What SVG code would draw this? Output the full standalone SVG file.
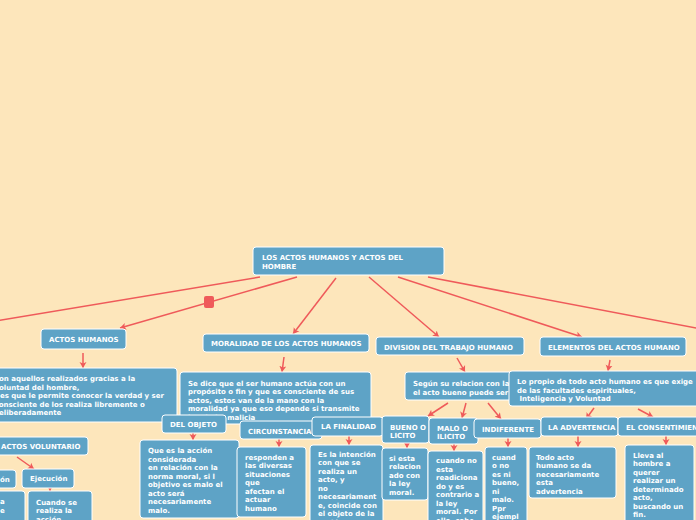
<svg xmlns="http://www.w3.org/2000/svg" width="696" height="520" viewBox="0 0 696 520">
<style>
.n{fill:#5EA3C6;stroke:#FFFFFF;stroke-width:1}
.t{font-family:"DejaVu Sans",Verdana,sans-serif;font-weight:bold;font-size:7px;fill:#FFFFFF}
.c{stroke:#EF5A5A;stroke-width:1.5;fill:none}
.a{marker-end:url(#ah)}
</style>
<defs>
<marker id="ah" markerUnits="userSpaceOnUse" markerWidth="9" markerHeight="9" refX="6" refY="4" orient="auto">
<path d="M0,0.5 L6,4 L0,7.5 L1.5,4 z" fill="#EF5A5A"/>
</marker>
</defs>
<rect width="696" height="520" fill="#FDE6BB"/>
<g id="connectors">
<line class="c" x1="260" y1="277" x2="-10" y2="322"/>
<line class="c a" x1="297" y1="277" x2="120" y2="328"/>
<rect x="204" y="296" width="10" height="12" rx="2" fill="#EF5A5A"/>
<line class="c a" x1="336" y1="278" x2="293" y2="334"/>
<line class="c a" x1="369" y1="277" x2="439" y2="337"/>
<line class="c a" x1="398" y1="277" x2="582" y2="337"/>
<line class="c" x1="428" y1="277" x2="706" y2="330"/>
<line class="c a" x1="83" y1="353" x2="83" y2="368"/>
<line class="c a" x1="284" y1="357" x2="282" y2="372"/>
<line class="c a" x1="457" y1="358" x2="465" y2="372"/>
<line class="c a" x1="610" y1="360" x2="608" y2="371"/>
<line class="c a" x1="448" y1="403" x2="428" y2="416"/>
<line class="c a" x1="466" y1="403" x2="462" y2="418"/>
<line class="c a" x1="488" y1="403" x2="501" y2="419"/>
<line class="c a" x1="594" y1="408" x2="586" y2="419"/>
<line class="c a" x1="638" y1="409" x2="653" y2="417"/>
<line class="c a" x1="17" y1="457" x2="34" y2="469"/>
<line class="c a" x1="193" y1="433" x2="193" y2="440"/>
<line class="c a" x1="279" y1="439" x2="279" y2="447"/>
<line class="c a" x1="349" y1="436" x2="349" y2="445"/>
<line class="c a" x1="407" y1="443" x2="407" y2="448"/>
<line class="c a" x1="454" y1="444" x2="454" y2="451"/>
<line class="c a" x1="508" y1="438" x2="508" y2="447"/>
<line class="c a" x1="578" y1="436" x2="578" y2="447"/>
<line class="c a" x1="666" y1="436" x2="666" y2="445"/>
<line class="c a" x1="50" y1="488" x2="50" y2="491"/>
</g>
<g id="root"><rect class="n" x="253" y="247" width="191" height="28" rx="3"/>
<text class="t" x="262" y="260">LOS ACTOS HUMANOS Y ACTOS DEL</text><text class="t" x="262" y="268.5">HOMBRE</text></g>
<g id="actos-humanos"><rect class="n" x="41" y="329" width="85" height="20" rx="3"/><text class="t" x="49" y="342">ACTOS HUMANOS</text></g>
<g id="moralidad"><rect class="n" x="203" y="334" width="166" height="18" rx="3"/><text class="t" x="211" y="346">MORALIDAD DE LOS ACTOS HUMANOS</text></g>
<g id="division"><rect class="n" x="376" y="337" width="148" height="18" rx="3"/><text class="t" x="384" y="349.5">DIVISION DEL TRABAJO HUMANO</text></g>
<g id="elementos"><rect class="n" x="540" y="337" width="146" height="19" rx="3"/><text class="t" x="548" y="349.5">ELEMENTOS DEL ACTOS HUMANO</text></g>
<g id="actos-humanos-def"><rect class="n" x="-10" y="368" width="187" height="54" rx="3"/>
<text class="t"><tspan x="-6" y="381">Son aquellos realizados gracias a la</tspan><tspan x="-5.5" y="389.5">voluntad del hombre,</tspan><tspan x="0" y="398">es que le permite conocer la verdad y ser</tspan><tspan x="-5.5" y="406.5">consciente de los realiza libremente o</tspan><tspan x="-6" y="415">deliberadamente</tspan></text></g>
<g id="moralidad-def"><rect class="n" x="180" y="372" width="191" height="52" rx="3"/>
<text class="t"><tspan x="188" y="385.5">Se dice que el ser humano actúa con un</tspan><tspan x="188" y="394">propósito o fin y  que es consciente de sus</tspan><tspan x="188" y="402.5">actos, estos van de la mano con la</tspan><tspan x="188" y="411">moralidad ya que eso depende si transmite</tspan><tspan x="188" y="419.5">bondad o malicia</tspan></text></g>
<g id="del-objeto"><rect class="n" x="162" y="415" width="64" height="18" rx="3"/><text class="t" x="170" y="427">DEL OBJETO</text></g>
<g id="del-objeto-def"><rect class="n" x="140" y="440" width="99" height="78" rx="3"/>
<text class="t"><tspan x="148" y="453">Que es la acción</tspan><tspan x="148" y="461.5">considerada</tspan><tspan x="148" y="470">en relación con la</tspan><tspan x="148" y="478.5">norma moral, si l</tspan><tspan x="148" y="487">objetivo es malo el</tspan><tspan x="148" y="495.5">acto será</tspan><tspan x="148" y="504">necesariamente</tspan><tspan x="148" y="512.5">malo.</tspan></text></g>
<g id="circunstancia"><rect class="n" x="240" y="421" width="82" height="18" rx="3"/><text class="t" x="248" y="433.5">CIRCUNSTANCIA</text></g>
<g id="circunstancia-def"><rect class="n" x="237" y="447" width="69" height="70" rx="3"/>
<text class="t"><tspan x="245" y="459.5">responden a</tspan><tspan x="245" y="468">las diversas</tspan><tspan x="245" y="476.5">situaciones</tspan><tspan x="245" y="485">que</tspan><tspan x="245" y="493.5">afectan el</tspan><tspan x="245" y="502">actuar</tspan><tspan x="245" y="510.5">humano</tspan></text></g>
<g id="finalidad"><rect class="n" x="312" y="417" width="71" height="19" rx="3"/><text class="t" x="321" y="429">LA FINALIDAD</text></g>
<g id="finalidad-def"><rect class="n" x="310" y="445" width="73" height="85" rx="3"/>
<text class="t"><tspan x="318" y="456.5">Es la intención</tspan><tspan x="318" y="465">con que se</tspan><tspan x="318" y="473.5">realiza un</tspan><tspan x="318" y="482">acto, y</tspan><tspan x="318" y="490.5">no</tspan><tspan x="318" y="499">necesariament</tspan><tspan x="318" y="507.5">e, coincide con</tspan><tspan x="318" y="516">el objeto de la</tspan><tspan x="318" y="524.5">acción.</tspan></text></g>
<g id="segun"><rect class="n" x="405" y="372" width="110" height="28" rx="3"/>
<text class="t"><tspan x="413" y="386">Según su relacion con la</tspan><tspan x="413" y="394.5">el acto bueno puede ser</tspan></text></g>
<g id="bueno"><rect class="n" x="382" y="416" width="47" height="27" rx="3"/>
<text class="t"><tspan x="390" y="429.5">BUENO O</tspan><tspan x="390" y="438">LICITO</tspan></text></g>
<g id="bueno-def"><rect class="n" x="382" y="448" width="46" height="52" rx="3"/>
<text class="t"><tspan x="389" y="460.5">si esta</tspan><tspan x="389" y="469">relacion</tspan><tspan x="389" y="477.5">ado con</tspan><tspan x="389" y="486">la ley</tspan><tspan x="389" y="494.5">moral.</tspan></text></g>
<g id="malo"><rect class="n" x="429" y="418" width="49" height="26" rx="3"/>
<text class="t"><tspan x="437" y="430.5">MALO O</tspan><tspan x="437" y="439">ILICITO</tspan></text></g>
<g id="malo-def"><rect class="n" x="428" y="451" width="55" height="80" rx="3"/>
<text class="t"><tspan x="436" y="463">cuando no</tspan><tspan x="436" y="471.5">esta</tspan><tspan x="436" y="480">readiciona</tspan><tspan x="436" y="488.5">do y es</tspan><tspan x="436" y="497">contrario a</tspan><tspan x="436" y="505.5">la ley</tspan><tspan x="436" y="514">moral. Por</tspan><tspan x="436" y="522.5">ello, sabe</tspan></text></g>
<g id="indiferente"><rect class="n" x="474" y="419" width="67" height="19" rx="3"/><text class="t" x="482" y="432">INDIFERENTE</text></g>
<g id="indiferente-def"><rect class="n" x="485" y="447" width="42" height="80" rx="3"/>
<text class="t"><tspan x="492" y="459.5">cuand</tspan><tspan x="492" y="468">o no</tspan><tspan x="492" y="476.5">es ni</tspan><tspan x="492" y="485">bueno,</tspan><tspan x="492" y="493.5">ni</tspan><tspan x="492" y="502">malo.</tspan><tspan x="492" y="510.5">Ppr</tspan><tspan x="492" y="519">ejempl</tspan></text></g>
<g id="elementos-def"><rect class="n" x="509" y="371" width="200" height="35" rx="3"/>
<text class="t"><tspan x="517" y="384">Lo propio de todo acto humano es que exige</tspan><tspan x="517" y="392.5">de las facultades espirituales,</tspan><tspan x="517" y="401"> Inteligencia y Voluntad</tspan></text></g>
<g id="advertencia"><rect class="n" x="541" y="417" width="77" height="19" rx="3"/><text class="t" x="548" y="430">LA ADVERTENCIA</text></g>
<g id="consentimiento"><rect class="n" x="618" y="417" width="90" height="19" rx="3"/><text class="t" x="626" y="430">EL CONSENTIMIENTO</text></g>
<g id="advertencia-def"><rect class="n" x="529" y="447" width="87" height="51" rx="3"/>
<text class="t"><tspan x="536" y="459.5">Todo acto</tspan><tspan x="536" y="468">humano se da</tspan><tspan x="536" y="476.5">necesariamente</tspan><tspan x="536" y="485">esta</tspan><tspan x="536" y="493.5">advertencia</tspan></text></g>
<g id="consentimiento-def"><rect class="n" x="625" y="445" width="69" height="85" rx="3"/>
<text class="t"><tspan x="633" y="457.5">Lleva al</tspan><tspan x="633" y="466">hombre a</tspan><tspan x="633" y="474.5">querer</tspan><tspan x="633" y="483">realizar un</tspan><tspan x="633" y="491.5">determinado</tspan><tspan x="633" y="500">acto,</tspan><tspan x="633" y="508.5">buscando un</tspan><tspan x="633" y="517">fin.</tspan></text></g>
<g id="actos-voluntario"><rect class="n" x="-10" y="437" width="98" height="18" rx="3"/><text class="t" x="1" y="449">ACTOS VOLUNTARIO</text></g>
<g id="on-node"><rect class="n" x="-10" y="470" width="26" height="18" rx="3"/><text class="t" x="0" y="482">ón</text></g>
<g id="ejecucion"><rect class="n" x="22" y="469" width="52" height="19" rx="3"/><text class="t" x="30" y="481">Ejecución</text></g>
<g id="left-def"><rect class="n" x="-10" y="491" width="35" height="40" rx="3"/>
<text class="t"><tspan x="0" y="504">a</tspan><tspan x="0" y="512.5">e</tspan></text></g>
<g id="ejecucion-def"><rect class="n" x="28" y="491" width="64" height="40" rx="3"/>
<text class="t"><tspan x="36" y="504.5">Cuando se</tspan><tspan x="36" y="513">realiza la</tspan><tspan x="36" y="521.5">acción.</tspan></text></g>
</svg>
